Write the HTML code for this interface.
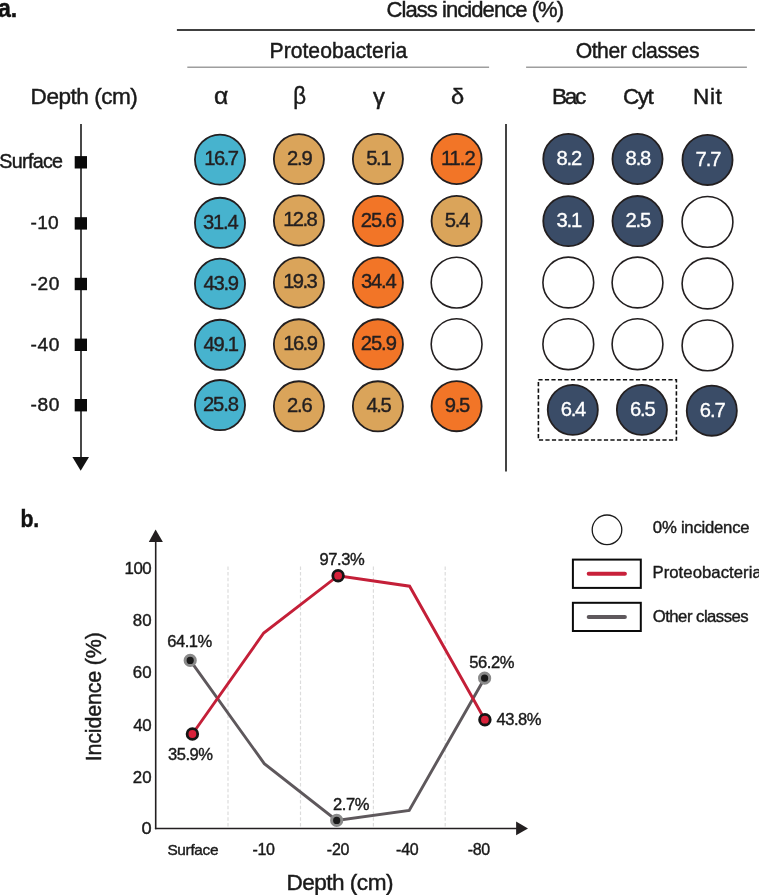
<!DOCTYPE html>
<html><head><meta charset="utf-8"><style>
html,body{margin:0;padding:0;background:#fff;}
body{width:759px;height:895px;overflow:hidden;}
svg{display:block;font-family:"Liberation Sans",sans-serif;will-change:transform;}
</style></head><body>
<svg width="759" height="895" viewBox="0 0 759 895">
<rect width="759" height="895" fill="#fff"/>
<text transform="scale(0.92,1)" x="-2.14" y="17.22" font-size="25.18" font-weight="bold" letter-spacing="-0.19" fill="#111" stroke="#111" stroke-width="0.45">a.</text>
<text x="386.62" y="16.67" font-size="22.02" font-weight="normal" letter-spacing="-0.95" fill="#1a1a1a" stroke="#1a1a1a" stroke-width="0.45">Class incidence (%)</text>
<line x1="176.9" y1="29.9" x2="754.9" y2="29.9" stroke="#404040" stroke-width="2"/>
<text x="269.53" y="57.77" font-size="21.15" font-weight="normal" letter-spacing="0.02" fill="#1a1a1a" stroke="#1a1a1a" stroke-width="0.45">Proteobacteria</text>
<text x="575.67" y="57.77" font-size="21.15" font-weight="normal" letter-spacing="-0.45" fill="#1a1a1a" stroke="#1a1a1a" stroke-width="0.45">Other classes</text>
<line x1="187.3" y1="67.3" x2="489.1" y2="67.3" stroke="#9e9e9e" stroke-width="1.5"/>
<line x1="526.1" y1="67.3" x2="746.9" y2="67.3" stroke="#9e9e9e" stroke-width="1.5"/>
<text x="30.62" y="103.98" font-size="22.60" font-weight="normal" letter-spacing="-0.50" fill="#1a1a1a" stroke="#1a1a1a" stroke-width="0.45">Depth (cm)</text>
<text x="214.13" y="104.34" font-size="23.00" font-weight="normal" fill="#1a1a1a" textLength="14.34" lengthAdjust="spacingAndGlyphs" stroke="#1a1a1a" stroke-width="0.45">α</text>
<text x="293.17" y="104.25" font-size="23.48" font-weight="normal" fill="#1a1a1a" textLength="12.80" lengthAdjust="spacingAndGlyphs" stroke="#1a1a1a" stroke-width="0.45">β</text>
<text x="373.01" y="104.36" font-size="22.91" font-weight="normal" fill="#1a1a1a" textLength="11.89" lengthAdjust="spacingAndGlyphs" stroke="#1a1a1a" stroke-width="0.45">γ</text>
<text x="450.98" y="104.45" font-size="22.65" font-weight="normal" fill="#1a1a1a" textLength="13.18" lengthAdjust="spacingAndGlyphs" stroke="#1a1a1a" stroke-width="0.45">δ</text>
<text x="552.12" y="104.18" font-size="22.60" font-weight="normal" letter-spacing="-2.33" fill="#1a1a1a" stroke="#1a1a1a" stroke-width="0.45">Bac</text>
<text x="622.89" y="104.18" font-size="22.60" font-weight="normal" letter-spacing="-1.50" fill="#1a1a1a" stroke="#1a1a1a" stroke-width="0.45">Cyt</text>
<text x="693.02" y="104.18" font-size="22.60" font-weight="normal" letter-spacing="0.60" fill="#1a1a1a" stroke="#1a1a1a" stroke-width="0.45">Nit</text>
<line x1="81" y1="124" x2="81" y2="458" stroke="#1a1a1a" stroke-width="1.6"/>
<path d="M72.4 457 L89 457 L80.7 470.8 Z" fill="#111"/>
<rect x="74.7" y="156.1" width="12.3" height="12.4" fill="#0a0a0a"/>
<rect x="74.7" y="217.2" width="12.3" height="12.4" fill="#0a0a0a"/>
<rect x="74.7" y="277.8" width="12.3" height="12.4" fill="#0a0a0a"/>
<rect x="74.7" y="338.6" width="12.3" height="12.4" fill="#0a0a0a"/>
<rect x="74.7" y="399.0" width="12.3" height="12.4" fill="#0a0a0a"/>
<text x="-0.66" y="168.08" font-size="19.70" font-weight="normal" letter-spacing="-0.70" fill="#1a1a1a" stroke="#1a1a1a" stroke-width="0.45">Surface</text>
<text x="30.56" y="229.38" font-size="19.11" font-weight="normal" letter-spacing="0.28" fill="#1a1a1a" stroke="#1a1a1a" stroke-width="0.45">-10</text>
<text x="30.56" y="289.97" font-size="19.11" font-weight="normal" letter-spacing="0.63" fill="#1a1a1a" stroke="#1a1a1a" stroke-width="0.45">-20</text>
<text x="30.56" y="350.77" font-size="19.11" font-weight="normal" letter-spacing="0.63" fill="#1a1a1a" stroke="#1a1a1a" stroke-width="0.45">-40</text>
<text x="30.56" y="411.17" font-size="19.11" font-weight="normal" letter-spacing="0.63" fill="#1a1a1a" stroke="#1a1a1a" stroke-width="0.45">-80</text>
<line x1="506" y1="124" x2="506" y2="471.6" stroke="#444" stroke-width="2"/>
<circle cx="220.0" cy="159.6" r="25.05" fill="#47b3ce" stroke="#231f20" stroke-width="1.8"/>
<text x="204.28" y="165.40" font-size="20.20" letter-spacing="-1.49" fill="#231f20" stroke="#231f20" stroke-width="0.4">16.7</text>
<circle cx="298.9" cy="159.1" r="25.05" fill="#daa45a" stroke="#231f20" stroke-width="1.8"/>
<text x="286.94" y="164.90" font-size="20.20" letter-spacing="-1.13" fill="#231f20" stroke="#231f20" stroke-width="0.4">2.9</text>
<circle cx="377.9" cy="159.0" r="25.05" fill="#daa45a" stroke="#231f20" stroke-width="1.8"/>
<text x="366.14" y="164.80" font-size="20.20" letter-spacing="-1.23" fill="#231f20" stroke="#231f20" stroke-width="0.4">5.1</text>
<circle cx="456.6" cy="159.0" r="25.05" fill="#f27527" stroke="#231f20" stroke-width="1.8"/>
<text x="440.88" y="164.80" font-size="20.20" letter-spacing="-0.98" fill="#231f20" stroke="#231f20" stroke-width="0.4">11.2</text>
<circle cx="220.0" cy="222.8" r="25.05" fill="#47b3ce" stroke="#231f20" stroke-width="1.8"/>
<text x="203.09" y="228.60" font-size="20.20" letter-spacing="-1.22" fill="#231f20" stroke="#231f20" stroke-width="0.4">31.4</text>
<circle cx="298.9" cy="220.5" r="25.05" fill="#daa45a" stroke="#231f20" stroke-width="1.8"/>
<text x="283.18" y="226.30" font-size="20.20" letter-spacing="-1.56" fill="#231f20" stroke="#231f20" stroke-width="0.4">12.8</text>
<circle cx="377.9" cy="221.0" r="25.05" fill="#f27527" stroke="#231f20" stroke-width="1.8"/>
<text x="360.79" y="226.80" font-size="20.20" letter-spacing="-1.09" fill="#231f20" stroke="#231f20" stroke-width="0.4">25.6</text>
<circle cx="456.6" cy="221.0" r="25.05" fill="#daa45a" stroke="#231f20" stroke-width="1.8"/>
<text x="444.84" y="226.80" font-size="20.20" letter-spacing="-1.38" fill="#231f20" stroke="#231f20" stroke-width="0.4">5.4</text>
<circle cx="220.0" cy="283.75" r="25.05" fill="#47b3ce" stroke="#231f20" stroke-width="1.8"/>
<text x="203.50" y="289.55" font-size="20.20" letter-spacing="-1.26" fill="#231f20" stroke="#231f20" stroke-width="0.4">43.9</text>
<circle cx="298.9" cy="282.5" r="25.05" fill="#daa45a" stroke="#231f20" stroke-width="1.8"/>
<text x="283.18" y="288.30" font-size="20.20" letter-spacing="-1.56" fill="#231f20" stroke="#231f20" stroke-width="0.4">19.3</text>
<circle cx="377.9" cy="282.5" r="25.05" fill="#f27527" stroke="#231f20" stroke-width="1.8"/>
<text x="360.99" y="288.30" font-size="20.20" letter-spacing="-1.22" fill="#231f20" stroke="#231f20" stroke-width="0.4">34.4</text>
<circle cx="456.6" cy="282.6" r="25.400000000000002" fill="#fff" stroke="#231f20" stroke-width="1.6"/>
<circle cx="220.0" cy="344.8" r="25.05" fill="#47b3ce" stroke="#231f20" stroke-width="1.8"/>
<text x="203.50" y="350.60" font-size="20.20" letter-spacing="-1.26" fill="#231f20" stroke="#231f20" stroke-width="0.4">49.1</text>
<circle cx="298.9" cy="344.3" r="25.05" fill="#daa45a" stroke="#231f20" stroke-width="1.8"/>
<text x="283.18" y="350.10" font-size="20.20" letter-spacing="-1.52" fill="#231f20" stroke="#231f20" stroke-width="0.4">16.9</text>
<circle cx="377.9" cy="344.3" r="25.05" fill="#f27527" stroke="#231f20" stroke-width="1.8"/>
<text x="360.79" y="350.10" font-size="20.20" letter-spacing="-1.06" fill="#231f20" stroke="#231f20" stroke-width="0.4">25.9</text>
<circle cx="456.6" cy="344.2" r="25.400000000000002" fill="#fff" stroke="#231f20" stroke-width="1.6"/>
<circle cx="220.0" cy="405.05" r="25.05" fill="#47b3ce" stroke="#231f20" stroke-width="1.8"/>
<text x="202.89" y="410.85" font-size="20.20" letter-spacing="-1.09" fill="#231f20" stroke="#231f20" stroke-width="0.4">25.8</text>
<circle cx="298.9" cy="406.3" r="25.05" fill="#daa45a" stroke="#231f20" stroke-width="1.8"/>
<text x="286.94" y="412.10" font-size="20.20" letter-spacing="-1.18" fill="#231f20" stroke="#231f20" stroke-width="0.4">2.6</text>
<circle cx="377.9" cy="406.3" r="25.05" fill="#daa45a" stroke="#231f20" stroke-width="1.8"/>
<text x="366.55" y="412.10" font-size="20.20" letter-spacing="-1.48" fill="#231f20" stroke="#231f20" stroke-width="0.4">4.5</text>
<circle cx="456.6" cy="406.2" r="25.05" fill="#f27527" stroke="#231f20" stroke-width="1.8"/>
<text x="444.74" y="412.00" font-size="20.20" letter-spacing="-1.23" fill="#231f20" stroke="#231f20" stroke-width="0.4">9.5</text>
<circle cx="568.3" cy="159.0" r="25.05" fill="#3a4c67" stroke="#231f20" stroke-width="1.8"/>
<text x="556.42" y="164.80" font-size="20.20" letter-spacing="-1.10" fill="#ffffff" stroke="#ffffff" stroke-width="0.35">8.2</text>
<circle cx="637.5" cy="159.0" r="25.05" fill="#3a4c67" stroke="#231f20" stroke-width="1.8"/>
<text x="625.62" y="164.80" font-size="20.20" letter-spacing="-1.21" fill="#ffffff" stroke="#ffffff" stroke-width="0.35">8.8</text>
<circle cx="707.5" cy="159.95" r="25.05" fill="#3a4c67" stroke="#231f20" stroke-width="1.8"/>
<text x="695.51" y="165.75" font-size="20.20" letter-spacing="-1.05" fill="#ffffff" stroke="#ffffff" stroke-width="0.35">7.7</text>
<circle cx="568.3" cy="221.1" r="25.05" fill="#3a4c67" stroke="#231f20" stroke-width="1.8"/>
<text x="556.52" y="226.90" font-size="20.20" letter-spacing="-1.21" fill="#ffffff" stroke="#ffffff" stroke-width="0.35">3.1</text>
<circle cx="637.5" cy="221.05" r="25.05" fill="#3a4c67" stroke="#231f20" stroke-width="1.8"/>
<text x="625.51" y="226.85" font-size="20.20" letter-spacing="-1.16" fill="#ffffff" stroke="#ffffff" stroke-width="0.35">2.5</text>
<circle cx="707.5" cy="221.9" r="25.400000000000002" fill="#fff" stroke="#231f20" stroke-width="1.6"/>
<circle cx="568.3" cy="282.5" r="25.400000000000002" fill="#fff" stroke="#231f20" stroke-width="1.6"/>
<circle cx="637.5" cy="282.5" r="25.400000000000002" fill="#fff" stroke="#231f20" stroke-width="1.6"/>
<circle cx="707.5" cy="283.5" r="25.400000000000002" fill="#fff" stroke="#231f20" stroke-width="1.6"/>
<circle cx="568.3" cy="344.2" r="25.400000000000002" fill="#fff" stroke="#231f20" stroke-width="1.6"/>
<circle cx="637.5" cy="344.2" r="25.400000000000002" fill="#fff" stroke="#231f20" stroke-width="1.6"/>
<circle cx="707.5" cy="345.4" r="25.400000000000002" fill="#fff" stroke="#231f20" stroke-width="1.6"/>
<circle cx="572.8" cy="409.85" r="25.05" fill="#3a4c67" stroke="#231f20" stroke-width="1.8"/>
<text x="560.81" y="415.65" font-size="20.20" letter-spacing="-1.26" fill="#ffffff" stroke="#ffffff" stroke-width="0.35">6.4</text>
<circle cx="641.9" cy="409.85" r="25.05" fill="#3a4c67" stroke="#231f20" stroke-width="1.8"/>
<text x="629.91" y="415.65" font-size="20.20" letter-spacing="-1.16" fill="#ffffff" stroke="#ffffff" stroke-width="0.35">6.5</text>
<circle cx="711.8" cy="410.7" r="25.05" fill="#3a4c67" stroke="#231f20" stroke-width="1.8"/>
<text x="699.81" y="416.50" font-size="20.20" letter-spacing="-1.05" fill="#ffffff" stroke="#ffffff" stroke-width="0.35">6.7</text>
<rect x="538.4" y="379.8" width="138" height="60.2" fill="none" stroke="#111" stroke-width="1.6" stroke-dasharray="4.2 2.3"/>
<text transform="scale(0.86,1)" x="23.77" y="527.13" font-size="24.69" font-weight="bold" letter-spacing="-0.21" fill="#111" stroke="#111" stroke-width="0.45">b.</text>
<line x1="228.0" y1="566.4" x2="228.0" y2="827" stroke="#dcdcdc" stroke-width="1.2" stroke-dasharray="3.5 2.2"/>
<line x1="300.5" y1="566.4" x2="300.5" y2="827" stroke="#dcdcdc" stroke-width="1.2" stroke-dasharray="3.5 2.2"/>
<line x1="373.4" y1="566.4" x2="373.4" y2="827" stroke="#dcdcdc" stroke-width="1.2" stroke-dasharray="3.5 2.2"/>
<line x1="445.2" y1="566.4" x2="445.2" y2="827" stroke="#dcdcdc" stroke-width="1.2" stroke-dasharray="3.5 2.2"/>
<line x1="155.7" y1="540" x2="155.7" y2="829.2" stroke="#231f20" stroke-width="1.6"/>
<path d="M148.8 542 L162.9 542 L155.6 529.6 Z" fill="#231f20"/>
<line x1="154.9" y1="828.4" x2="518" y2="828.4" stroke="#231f20" stroke-width="1.5"/>
<path d="M516.1 821.5 L516.1 835.3 L528.0 828.4 Z" fill="#231f20"/>
<text x="124.44" y="574.40" font-size="16.86" font-weight="normal" letter-spacing="-0.43" fill="#1a1a1a" stroke="#1a1a1a" stroke-width="0.4">100</text>
<text x="132.84" y="626.20" font-size="16.86" font-weight="normal" letter-spacing="0.08" fill="#1a1a1a" stroke="#1a1a1a" stroke-width="0.4">80</text>
<text x="132.76" y="678.40" font-size="16.86" font-weight="normal" letter-spacing="0.17" fill="#1a1a1a" stroke="#1a1a1a" stroke-width="0.4">60</text>
<text x="133.26" y="730.50" font-size="16.86" font-weight="normal" letter-spacing="-0.34" fill="#1a1a1a" stroke="#1a1a1a" stroke-width="0.4">40</text>
<text x="132.76" y="782.60" font-size="16.86" font-weight="normal" letter-spacing="0.17" fill="#1a1a1a" stroke="#1a1a1a" stroke-width="0.4">20</text>
<text x="141.57" y="834.40" font-size="16.86" font-weight="normal" fill="#1a1a1a" textLength="10.14" lengthAdjust="spacingAndGlyphs" stroke="#1a1a1a" stroke-width="0.4">0</text>
<text x="167.41" y="855.10" font-size="15.41" font-weight="normal" letter-spacing="-0.33" fill="#1a1a1a" stroke="#1a1a1a" stroke-width="0.4">Surface</text>
<text x="252.48" y="855.10" font-size="15.99" font-weight="normal" letter-spacing="-0.36" fill="#1a1a1a" stroke="#1a1a1a" stroke-width="0.4">-10</text>
<text x="326.78" y="855.10" font-size="15.99" font-weight="normal" letter-spacing="-0.21" fill="#1a1a1a" stroke="#1a1a1a" stroke-width="0.4">-20</text>
<text x="396.08" y="855.10" font-size="15.99" font-weight="normal" letter-spacing="-0.21" fill="#1a1a1a" stroke="#1a1a1a" stroke-width="0.4">-40</text>
<text x="467.68" y="855.10" font-size="15.99" font-weight="normal" letter-spacing="-0.26" fill="#1a1a1a" stroke="#1a1a1a" stroke-width="0.4">-80</text>
<text x="286.42" y="889.57" font-size="22.60" font-weight="normal" letter-spacing="-0.52" fill="#1a1a1a" stroke="#1a1a1a" stroke-width="0.45">Depth (cm)</text>
<g transform="translate(101.6,759.6) rotate(-90)">
<text x="-1.70" y="-0.23" font-size="21.44" font-weight="normal" letter-spacing="-0.16" fill="#1a1a1a" stroke="#1a1a1a" stroke-width="0.45">Incidence (%)</text>
</g>
<polyline points="190.2,660.4 264.3,763.7 336.7,820.4 409.2,810.4 484.6,678.2" fill="none" stroke="#5e585c" stroke-width="2.9" stroke-linejoin="miter"/>
<polyline points="192.4,734.0 263.7,633.0 338.1,575.7 409.6,586.2 484.9,719.7" fill="none" stroke="#c41f38" stroke-width="2.9" stroke-linejoin="miter"/>
<circle cx="190.2" cy="660.4" r="5.1" fill="#1a1a1a" stroke="#8a8a8a" stroke-width="3.0"/>
<circle cx="336.7" cy="820.4" r="5.1" fill="#1a1a1a" stroke="#8a8a8a" stroke-width="3.0"/>
<circle cx="484.6" cy="678.2" r="5.1" fill="#1a1a1a" stroke="#8a8a8a" stroke-width="3.0"/>
<circle cx="192.4" cy="734.0" r="5.3" fill="#d8213a" stroke="#151515" stroke-width="2.8"/>
<circle cx="338.1" cy="575.7" r="5.3" fill="#d8213a" stroke="#151515" stroke-width="2.8"/>
<circle cx="484.9" cy="719.7" r="5.3" fill="#d8213a" stroke="#151515" stroke-width="2.8"/>
<text x="167.27" y="647.10" font-size="16.57" font-weight="normal" letter-spacing="-0.49" fill="#1a1a1a" stroke="#1a1a1a" stroke-width="0.4">64.1%</text>
<text x="167.94" y="759.60" font-size="16.57" font-weight="normal" letter-spacing="-0.46" fill="#1a1a1a" stroke="#1a1a1a" stroke-width="0.4">35.9%</text>
<text x="319.55" y="564.50" font-size="16.57" font-weight="normal" letter-spacing="-0.46" fill="#1a1a1a" stroke="#1a1a1a" stroke-width="0.4">97.3%</text>
<text x="469.34" y="667.80" font-size="16.57" font-weight="normal" letter-spacing="-0.46" fill="#1a1a1a" stroke="#1a1a1a" stroke-width="0.4">56.2%</text>
<text x="496.47" y="725.20" font-size="16.57" font-weight="normal" letter-spacing="-0.47" fill="#1a1a1a" stroke="#1a1a1a" stroke-width="0.4">43.8%</text>
<text x="332.97" y="809.60" font-size="16.57" font-weight="normal" letter-spacing="-0.42" fill="#1a1a1a" stroke="#1a1a1a" stroke-width="0.4">2.7%</text>
<circle cx="607" cy="529.8" r="14.8" fill="#fff" stroke="#1a1a1a" stroke-width="1.3"/>
<rect x="572.9" y="559.6" width="67.9" height="28.3" fill="none" stroke="#0a0a0a" stroke-width="2"/>
<line x1="588.7" y1="573.7" x2="624.9" y2="573.7" stroke="#c8203a" stroke-width="4" stroke-linecap="round"/>
<rect x="572.9" y="602.8" width="67.9" height="28.2" fill="none" stroke="#0a0a0a" stroke-width="2"/>
<line x1="588.7" y1="616.9" x2="624.9" y2="616.9" stroke="#5e585c" stroke-width="4" stroke-linecap="round"/>
<text x="652.83" y="533.00" font-size="16.72" font-weight="normal" letter-spacing="-0.24" fill="#1a1a1a" stroke="#1a1a1a" stroke-width="0.4">0% incidence</text>
<text x="652.46" y="578.20" font-size="16.72" font-weight="normal" letter-spacing="0.05" fill="#1a1a1a" stroke="#1a1a1a" stroke-width="0.4">Proteobacteria</text>
<text x="652.75" y="621.70" font-size="16.72" font-weight="normal" letter-spacing="-0.52" fill="#1a1a1a" stroke="#1a1a1a" stroke-width="0.4">Other classes</text>
</svg></body></html>
